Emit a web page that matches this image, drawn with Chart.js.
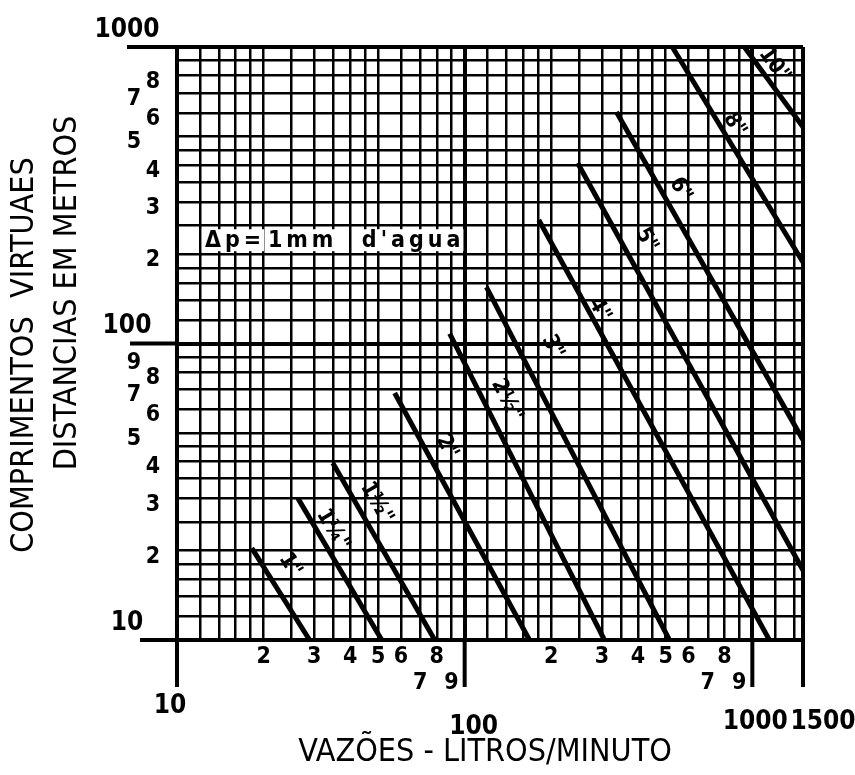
<!DOCTYPE html>
<html>
<head>
<meta charset="utf-8">
<script src="https://cdn.jsdelivr.net/npm/chart.js@4.4.1/dist/chart.umd.min.js"></script>
<style>
  html, body { margin: 0; padding: 0; background: #fff; }
  #wrap { width: 855px; height: 775px; }
</style>
</head>
<body>
<div id="wrap"><canvas id="chart1"></canvas></div>
<script>
// pipe diameters and the two ends of each line (flow l/min, length m)
const pipeSizes = ['1"', '1¼"', '1½"', '2"', '2½"', '3"', '4"', '5"', '6"', '8"', '10"'];
const flowStart = [18.2, 26.3, 34.8, 57.1, 88.7, 119, 181, 247, 337, 527, 938];
const lengthStart = [20.4, 30.1, 39.5, 68.1, 108, 155, 261, 406, 604, 1000, 1000];
const flowEnd = [28.9, 51.5, 78.7, 168, 306, 515, 1146, 1500, 1500, 1500, 1500];
const lengthEnd = [10, 10, 10, 10, 10, 10, 10, 17.2, 47.3, 188, 537];
// where the diameter is written along each line
const labelFlow = [24.7, 34.8, 49.4, 86.6, 140, 202, 294, 428, 562, 866, 1191];
const labelLength = [17.9, 23.5, 29.0, 44.8, 64.4, 97.3, 130, 223, 330, 546, 869];

const xTickValues = [20, 30, 40, 50, 60, 70, 80, 90, 200, 300, 400, 500, 600, 700, 800, 900];
const xTickLabels = ['2', '3', '4', '5', '6', '7', '8', '9', '2', '3', '4', '5', '6', '7', '8', '9'];
const xMajorValues = [10, 100, 1000, 1500];
const xMajorLabels = ['10', '100', '1000', '1500'];
const yTickValues = [20, 30, 40, 50, 60, 70, 80, 90, 200, 300, 400, 500, 600, 700, 800];
const yTickLabels = ['2', '3', '4', '5', '6', '7', '8', '9', '2', '3', '4', '5', '6', '7', '8'];
const yMajorValues = [10, 100, 1000];
const yMajorLabels = ['10', '100', '1000'];

// log paper rulings inside each decade
const gridSteps = [1, 1.2, 1.4, 1.6, 1.8, 2, 2.5, 3, 3.5, 4, 4.5, 5, 6, 7, 8, 9];

const FONT = "'Liberation Sans Narrow', 'DejaVu Sans Condensed', 'Roboto Condensed', sans-serif";

function gridValues(min, max) {
  const vals = [];
  for (let d = min; d < max; d *= 10) {
    gridSteps.forEach(s => { const v = Math.round(d * s * 1000) / 1000; if (v <= max) vals.push(v); });
  }
  if (vals[vals.length - 1] !== max) vals.push(max);
  return vals;
}

const isMajor = v => [10, 100, 1000].includes(v);

const nomogramPlugin = {
  id: 'nomogram',
  afterDraw(chart) {
    const { ctx, chartArea: a, scales: { x, y } } = chart;
    ctx.save();
    ctx.strokeStyle = '#000';
    ctx.fillStyle = '#000';

    // axis lines running out of the paper
    ctx.lineWidth = 4;
    ctx.beginPath();
    xMajorValues.forEach(v => {
      const px = x.getPixelForValue(v);
      ctx.moveTo(px, a.bottom);
      ctx.lineTo(px, a.bottom + 47);
    });
    const yExt = [37, 47, 50];
    yMajorValues.forEach((v, i) => {
      const py = y.getPixelForValue(v);
      ctx.moveTo(a.left, py);
      ctx.lineTo(a.left - yExt[i], py);
    });
    ctx.stroke();

    // x tick digits
    ctx.textAlign = 'center';
    ctx.textBaseline = 'middle';
    ctx.font = 'bold 23px ' + FONT;
    xTickValues.forEach((v, i) => {
      const px = x.getPixelForValue(v);
      const low = xTickLabels[i] === '7' || xTickLabels[i] === '9';
      ctx.fillText(xTickLabels[i], px, a.bottom + (low ? 43 : 17));
    });
    ctx.font = 'bold 26px ' + FONT;
    const xMajOff = [[-7, 66], [9, 87], [3, 82], [20, 82]];
    xMajorValues.forEach((v, i) => {
      const px = x.getPixelForValue(v);
      ctx.fillText(xMajorLabels[i], px + xMajOff[i][0], a.bottom + xMajOff[i][1]);
    });

    // y tick digits
    ctx.font = 'bold 23px ' + FONT;
    yTickValues.forEach((v, i) => {
      const py = y.getPixelForValue(v);
      const odd = ['5', '7', '9'].includes(yTickLabels[i]);
      ctx.fillText(yTickLabels[i], odd ? a.left - 43 : a.left - 24, py + 6);
    });
    ctx.font = 'bold 26px ' + FONT;
    yMajorValues.forEach((v, i) => {
      const py = y.getPixelForValue(v);
      ctx.fillText(yMajorLabels[i], a.left - 50, py - 17);
    });

    // diameters along the lines
    ctx.font = 'bold 22px ' + FONT;
    pipeSizes.forEach((t, i) => {
      const x0 = x.getPixelForValue(flowStart[i]), y0 = y.getPixelForValue(lengthStart[i]);
      const x1 = x.getPixelForValue(flowEnd[i]), y1 = y.getPixelForValue(lengthEnd[i]);
      const ang = Math.atan2(y1 - y0, x1 - x0);
      ctx.save();
      ctx.translate(x.getPixelForValue(labelFlow[i]), y.getPixelForValue(labelLength[i]));
      ctx.rotate(ang);
      ctx.fillText(t, 0, 0);
      ctx.restore();
    });

    // pressure drop note
    ctx.font = 'bold 23px ' + FONT;
    ctx.textAlign = 'left';
    ctx.letterSpacing = '4px';
    const note = [['Δp=', 12.5], ['1mm', 20.7], ["d'agua", 43.9]];
    const ny = y.getPixelForValue(223);
    note.forEach(([t, v]) => {
      const px = x.getPixelForValue(v);
      const w = ctx.measureText(t).width;
      ctx.fillStyle = '#fff';
      ctx.fillRect(px - 3, ny - 11, w + 2, 22);
      ctx.fillStyle = '#000';
      ctx.fillText(t, px, ny + 1);
    });
    ctx.letterSpacing = '0px';

    // axis titles
    ctx.textAlign = 'center';
    ctx.font = '32px ' + FONT;
    ctx.fillText('VAZÕES - LITROS/MINUTO', 485, 753);
    ctx.save();
    ctx.translate(25, 355);
    ctx.rotate(-Math.PI / 2);
    ctx.fillText('COMPRIMENTOS  VIRTUAES', 0, 0);
    ctx.restore();
    ctx.save();
    ctx.translate(68, 293);
    ctx.rotate(-Math.PI / 2);
    ctx.fillText('DISTANCIAS EM METROS', 0, 0);
    ctx.restore();

    ctx.restore();
  }
};

const datasets = pipeSizes.map((name, i) => ({
  label: name,
  data: [{ x: flowStart[i], y: lengthStart[i] }, { x: flowEnd[i], y: lengthEnd[i] }],
  showLine: true,
  borderColor: '#000',
  borderWidth: 5,
  pointRadius: 0,
  fill: false,
}));

new Chart(document.getElementById('chart1').getContext('2d'), {
  type: 'scatter',
  data: { datasets },
  options: {
    responsive: true,
    maintainAspectRatio: false,
    animation: false,
    layout: { padding: { left: 177, right: 52, top: 47, bottom: 135 } },
    plugins: { legend: { display: false }, tooltip: { enabled: false } },
    scales: {
      x: {
        type: 'logarithmic',
        min: 10,
        max: 1500,
        afterBuildTicks: s => { s.ticks = gridValues(10, 1500).map(v => ({ value: v })); },
        afterFit: s => { s.height = 0; },
        ticks: { display: false },
        grid: {
          color: '#000',
          lineWidth: c => (c.tick && (isMajor(c.tick.value) || c.tick.value === 1500) ? 4 : 2.5),
          drawTicks: false,
        },
        border: { display: true, color: '#000', width: 4 },
      },
      y: {
        type: 'logarithmic',
        min: 10,
        max: 1000,
        afterBuildTicks: s => { s.ticks = gridValues(10, 1000).map(v => ({ value: v })); },
        afterFit: s => { s.width = 0; },
        ticks: { display: false },
        grid: {
          color: '#000',
          lineWidth: c => (c.tick && isMajor(c.tick.value) ? 4 : 2.5),
          drawTicks: false,
        },
        border: { display: true, color: '#000', width: 4 },
      },
    },
  },
  plugins: [nomogramPlugin],
});
</script>
</body>
</html>
